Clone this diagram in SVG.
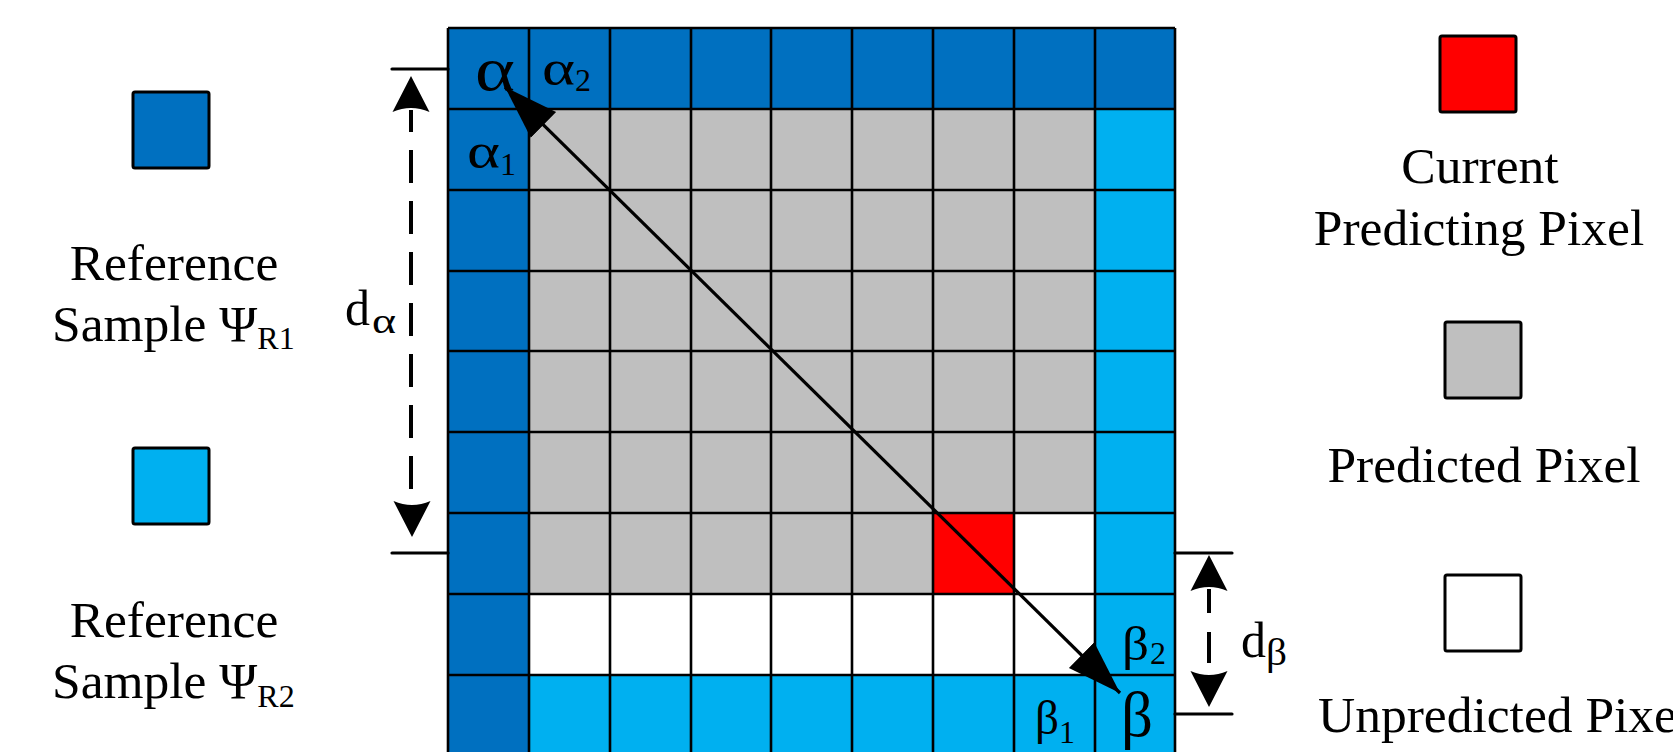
<svg xmlns="http://www.w3.org/2000/svg" width="1673" height="752" viewBox="0 0 1673 752">
<style>
text{font-family:"Liberation Serif","Times New Roman",serif;fill:#000}
.lg{font-size:51.5px}
.sub{font-size:32px}
.dk{fill:#0070C0}
.lt{fill:#00B0F0}
.gr{fill:#BFBFBF}
.rd{fill:#FF0000}
.wh{fill:#FFFFFF}
.key{stroke:#000;stroke-width:3;stroke-linejoin:round}
.grid{fill:none;stroke:#000;stroke-width:2.6}
.tick{stroke:#000;stroke-width:3.2;stroke-linecap:round;fill:none}
.dash{stroke:#000;stroke-width:4;fill:none}
</style>
<defs>
<marker id="tri" markerUnits="userSpaceOnUse" viewBox="0 -20 60 40" markerWidth="60" markerHeight="40" refX="54" refY="0" orient="auto-start-reverse">
<path d="M0,-18 L54,0 L0,18 Z" fill="#000"/>
</marker>
<path id="headUp" d="M0,0 L18.5,36 Q0,28 -18.5,36 Z" fill="#000"/>
</defs>
<rect width="1673" height="752" fill="#fff"/>

<g id="grid">
<rect class="dk" x="448" y="28" width="727" height="81"/>
<rect class="dk" x="448" y="28" width="81" height="727"/>
<rect class="lt" x="1095" y="109" width="80" height="646"/>
<rect class="lt" x="529" y="675" width="566" height="80"/>
<rect class="gr" x="529" y="109" width="566" height="404"/>
<rect class="gr" x="529" y="513" width="404" height="81"/>
<rect class="rd" x="933" y="513" width="81" height="81"/>
<path class="grid" d="M448,28V755M529,28V755M610,28V755M691,28V755M771,28V755M852,28V755M933,28V755M1014,28V755M1095,28V755M1175,28V755
M448,28H1175M448,109H1175M448,190H1175M448,271H1175M448,351H1175M448,432H1175M448,513H1175M448,594H1175M448,675H1175"/>
</g>

<g id="grid-labels">
<text x="475" y="90" style="font-size:62px" textLength="40" lengthAdjust="spacingAndGlyphs">α</text>
<text x="542" y="85" style="font-size:50px"><tspan textLength="33" lengthAdjust="spacingAndGlyphs">α</tspan><tspan class="sub" x="575" dy="6">2</tspan></text>
<text x="467" y="168" style="font-size:51px"><tspan textLength="33" lengthAdjust="spacingAndGlyphs">α</tspan><tspan class="sub" x="500" dy="7">1</tspan></text>
<text x="1122" y="660" style="font-size:48px"><tspan textLength="27" lengthAdjust="spacingAndGlyphs">β</tspan><tspan class="sub" x="1150" dy="4">2</tspan></text>
<text x="1035" y="734" style="font-size:48px"><tspan textLength="24" lengthAdjust="spacingAndGlyphs">β</tspan><tspan class="sub" x="1059" dy="9">1</tspan></text>
<text x="1121" y="736" style="font-size:64px" textLength="32" lengthAdjust="spacingAndGlyphs">β</text>
</g>

<g id="connectors">
<line x1="505" y1="87" x2="1120" y2="693" stroke="#000" stroke-width="3.2" marker-start="url(#tri)" marker-end="url(#tri)"/>
<path class="tick" d="M392,69H448M392,553H448M1175,553H1232M1175,714H1232"/>
<use href="#headUp" x="411" y="76"/>
<use href="#headUp" transform="translate(412,537) scale(1,-1)"/>
<path class="dash" d="M411,110V500" stroke-dasharray="33 18" stroke-dashoffset="11"/>
<use href="#headUp" x="1209" y="555"/>
<use href="#headUp" transform="translate(1209,707) scale(1,-1)"/>
<path class="dash" d="M1209,589V613M1209,632V663"/>
</g>

<g id="dim-labels">
<text x="345" y="325" style="font-size:50px">d<tspan class="sub" x="372" dy="8" style="font-size:36px" textLength="24" lengthAdjust="spacingAndGlyphs">α</tspan></text>
<text x="1241" y="657" style="font-size:50px">d<tspan class="sub" x="1266" dy="8" style="font-size:38px" textLength="21" lengthAdjust="spacingAndGlyphs">β</tspan></text>
</g>

<g id="legend-r1">
<rect class="dk key" x="133" y="92" width="76" height="76" rx="2"/>
<text class="lg" x="174" y="280" text-anchor="middle">Reference</text>
<text class="lg" x="52" y="341">Sample Ψ<tspan class="sub" dy="8">R1</tspan></text>
</g>
<g id="legend-r2">
<rect class="lt key" x="133" y="448" width="76" height="76" rx="2"/>
<text class="lg" x="174" y="637" text-anchor="middle">Reference</text>
<text class="lg" x="52" y="698">Sample Ψ<tspan class="sub" dy="9">R2</tspan></text>
</g>
<g id="legend-current">
<rect class="rd key" x="1440" y="36" width="76" height="76" rx="2"/>
<text class="lg" x="1480" y="183" text-anchor="middle">Current</text>
<text class="lg" x="1479" y="245" text-anchor="middle">Predicting Pixel</text>
</g>
<g id="legend-predicted">
<rect class="gr key" x="1445" y="322" width="76" height="76" rx="2"/>
<text class="lg" x="1484" y="482" text-anchor="middle">Predicted Pixel</text>
</g>
<g id="legend-unpredicted">
<rect class="wh key" x="1445" y="575" width="76" height="76" rx="2"/>
<text class="lg" x="1318" y="732">Unpredicted Pixel</text>
</g>
</svg>
